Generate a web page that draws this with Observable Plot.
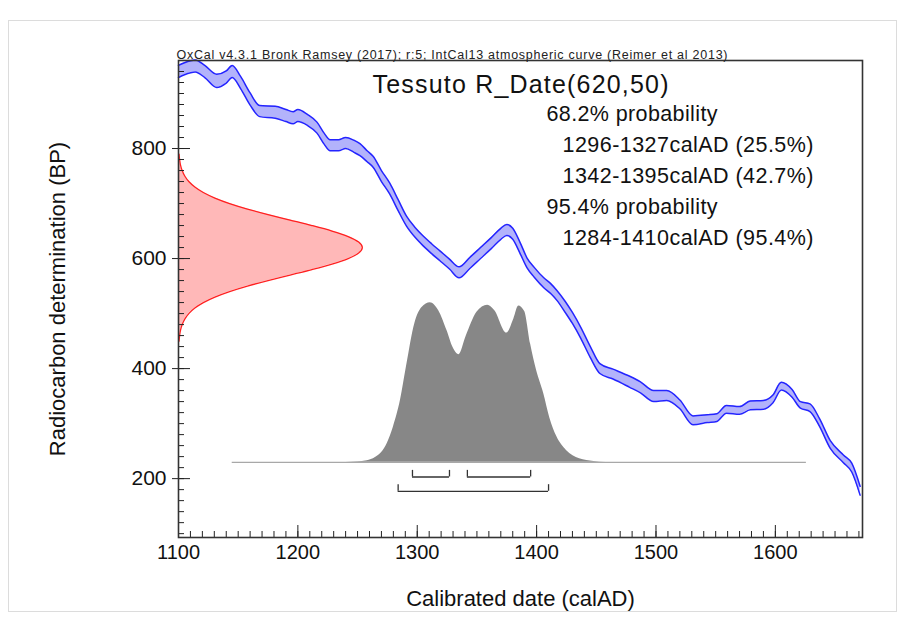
<!DOCTYPE html>
<html><head><meta charset="utf-8">
<script src="https://cdn.jsdelivr.net/npm/d3@7"></script>
<script src="https://cdn.jsdelivr.net/npm/@observablehq/plot@0.6"></script>
<style>
html,body{margin:0;padding:0;background:#fff;}
#wrap{position:relative;width:904px;height:617px;overflow:hidden;background:#fff;}
#border{position:absolute;left:8px;top:20px;width:889px;height:592px;border:1px solid #dcdcdc;box-sizing:border-box;pointer-events:none}
svg text{font-family:"Liberation Sans",Arial,sans-serif;}
</style></head><body><div id="wrap"><div id="border"></div></div>
<script>
// Calibration curve (IntCal13): calendar year, radiocarbon age (BP), 1-sigma half width
const curveYear  = [1100,1105,1114,1122,1132,1140,1145,1152,1160,1168,1181,1190,1196,1200,1208,1216,1222,1227,1234,1240,1247,1252,1258,1263,1270,1277,1284,1291,1298,1305,1312,1319,1327,1335,1344,1353,1362,1370,1375,1380,1386,1392,1398,1406,1412,1417,1424,1430,1437,1445,1453,1464,1478,1487,1498,1509,1520,1531,1543,1551,1559,1570,1579,1590,1598,1605,1614,1621,1629,1637,1646,1657,1664,1671];
const curveBP    = [940,945,950,940,923,930,940,920,890,868,866,860,856,860,852,838,818,806,806,810,804,798,786,776,750,727,697,668,648,632,618,605,590,575,592,610,628,645,652,645,620,592,575,556,545,533,512,492,465,430,400,390,376,366,350,351,335,306,309,311,326,324,333,334,345,368,355,334,329,302,262,236,220,178];
const curveSigma = [11,11,11,11,12,11,11,11,11,10,11,11,11,11,10,10,10,10,10,10,11,11,10,10,10,10,10,9,9,9,9,9,9,10,10,10,10,10,10,10,10,9,9,9,9,9,10,10,10,10,9,9,10,10,10,9,8,8,7,7,7,7,8,8,7,7,7,6,7,7,7,7,8,8];

// R_Date(620,50) measurement distribution (relative probability vs BP)
const dateBP   = [450,460,470,480,490,500,510,520,530,540,550,560,570,580,590,600,610,620,630,640,650,660,670,680,690,700,710,720,730,740,750,760,770,780,790];
const dateProb = [0.003,0.006,0.011,0.020,0.034,0.056,0.089,0.135,0.198,0.278,0.375,0.487,0.607,0.726,0.835,0.923,0.980,1.0,0.980,0.923,0.835,0.726,0.607,0.487,0.375,0.278,0.198,0.135,0.089,0.056,0.034,0.020,0.011,0.006,0.003];

// Calibrated (posterior) distribution: year vs relative probability
const postYear = [1240,1250,1258,1265,1270,1275,1280,1286,1291,1298,1304,1311,1318,1325,1330,1335,1341,1350,1359,1365,1375,1381,1385,1390,1395,1400,1406,1411,1417,1425,1436,1448,1458];
const postProb = [0,0.003,0.01,0.03,0.06,0.12,0.22,0.39,0.60,0.87,0.97,1.0,0.95,0.825,0.72,0.675,0.79,0.94,0.985,0.95,0.81,0.90,0.98,0.945,0.74,0.575,0.43,0.28,0.16,0.075,0.023,0.006,0];

// Probability ranges
const range68 = [[1296,1327],[1342,1395]];
const range95 = [[1284,1410]];

// Texts
const headerText = "OxCal v4.3.1 Bronk Ramsey (2017); r:5; IntCal13 atmospheric curve (Reimer et al 2013)";
const titleText = "Tessuto R_Date(620,50)";
const probLines = ["68.2% probability","1296-1327calAD (25.5%)","1342-1395calAD (42.7%)","95.4% probability","1284-1410calAD (95.4%)"];
const probIndent = [0,1,1,0,1];
const xLabelText = "Calibrated date (calAD)";
const yLabelText = "Radiocarbon determination (BP)";

// Ticks
const xTickLabels = [1100,1200,1300,1400,1500,1600];
const yTickLabels = [200,400,600,800];

const X_DOMAIN = [1100, 1673];
const Y_DOMAIN = [93, 960];

const curve = curveYear.map((x,i)=>({year:x, bp:curveBP[i], s:curveSigma[i]}));
const dateDist = dateBP.map((b,i)=>({bp:b, p:dateProb[i]}));
const post = postYear.map((x,i)=>({year:x, p:postProb[i]}));

const BASE = 229.6;     // baseline of calibrated distribution (BP units on plot)
const POST_H = 290;     // height of calibrated distribution
const RED_W = 154;      // width of measurement distribution (years)
const ROW1 = 203, ROW2 = 177, BR_H = 12;

const xMinor = d3.range(1100, 1674, 10);
const yMinor = d3.range(100, 961, 20);

const font = "Liberation Sans, Arial, sans-serif";
const T = {lineAnchor: "middle", frameAnchor: "top-left", textAnchor: "start", fill: "#111"};

const chart = Plot.plot({
  width: 904, height: 617,
  marginLeft: 178, marginRight: 42, marginTop: 60, marginBottom: 80,
  x: {domain: X_DOMAIN},
  y: {domain: Y_DOMAIN},
  style: {fontFamily: font, background: "transparent", color: "#111"},
  marks: [
    // calibrated distribution
    Plot.areaY(post, {x: "year", y1: BASE, y2: d => BASE + d.p*POST_H, fill: "#878787", curve: "monotone-x"}),
    Plot.ruleY([BASE], {x1: 1145, x2: 1626, stroke: "#a8a8a8", strokeWidth: 1.3}),
    // measurement distribution
    Plot.areaX(dateDist, {y: "bp", x1: X_DOMAIN[0], x2: d => X_DOMAIN[0] + d.p*RED_W, fill: "#ffb8b8", curve: "monotone-y"}),
    Plot.lineX(dateDist, {y: "bp", x: d => X_DOMAIN[0] + d.p*RED_W, stroke: "#ff2020", strokeWidth: 1.3, curve: "monotone-y"}),
    // calibration curve
    Plot.areaY(curve, {x: "year", y1: d => d.bp - d.s, y2: d => d.bp + d.s, fill: "#b3b3fb", curve: "monotone-x"}),
    Plot.lineY(curve, {x: "year", y: d => d.bp + d.s, stroke: "#2424ff", strokeWidth: 1.5, curve: "monotone-x"}),
    Plot.lineY(curve, {x: "year", y: d => d.bp - d.s, stroke: "#2424ff", strokeWidth: 1.5, curve: "monotone-x"}),
    // range brackets
    Plot.ruleY(range68, {x1: d => d[0], x2: d => d[1], y: ROW1, stroke: "#333", strokeWidth: 1.3}),
    Plot.ruleX(range68.flat(), {x: d => d, y1: ROW1, y2: ROW1 + BR_H, stroke: "#333", strokeWidth: 1.3}),
    Plot.ruleY(range95, {x1: d => d[0], x2: d => d[1], y: ROW2, stroke: "#333", strokeWidth: 1.3}),
    Plot.ruleX(range95.flat(), {x: d => d, y1: ROW2, y2: ROW2 + BR_H, stroke: "#333", strokeWidth: 1.3}),
    // axes
    Plot.axisX({ticks: xTickLabels, tickSize: 0, tickPadding: 7, fontSize: 20, tickFormat: d => String(d), label: null}),
    Plot.axisX({ticks: xTickLabels, tickSize: -12, tickFormat: () => "", label: null, stroke: "#222"}),
    Plot.axisX({ticks: xMinor, tickSize: -6, tickFormat: () => "", label: null, stroke: "#222"}),
    Plot.axisY({ticks: yTickLabels, tickSize: 0, tickPadding: 12, fontSize: 21, tickFormat: d => String(d), label: null}),
    Plot.axisY({ticks: yTickLabels, tickSize: -12, tickFormat: () => "", label: null, stroke: "#222"}),
    Plot.axisY({ticks: yTickLabels, tickSize: 6, tickFormat: () => "", label: null, stroke: "#222"}),
    Plot.axisY({ticks: yMinor, tickSize: -6, tickFormat: () => "", label: null, stroke: "#222"}),
    Plot.frame({stroke: "#333", strokeWidth: 1.6}),
    // axis titles
    Plot.text([xLabelText], {text: d => d, frameAnchor: "bottom", lineAnchor: "middle", textAnchor: "middle", dy: 61, fontSize: 22, fill: "#111"}),
    Plot.text([yLabelText], {text: d => d, frameAnchor: "left", lineAnchor: "middle", textAnchor: "middle", dx: -121, rotate: -90, fontSize: 22, fill: "#111"}),
    // header and annotations
    Plot.text([headerText], {...T, text: d => d, dx: -2, dy: -6, fontSize: 12.5, fill: "#222"}),
    Plot.text([titleText], {...T, text: d => d, dx: 194, dy: 24, fontSize: 25}),
    ...probLines.map((t, i) => Plot.text([t], {...T, text: d => d, dx: 368 + probIndent[i]*16, dy: 53.5 + i*31, fontSize: 21.5}))
  ]
});
// stretch annotation text widths to match the original rendering
const widths = new Map([[headerText, 551], [titleText, 296], [probLines[0], 171], [probLines[1], 251], [probLines[2], 251], [probLines[3], 171], [probLines[4], 251]]);
chart.querySelectorAll("text").forEach(el => {
  const w = widths.get(el.textContent);
  if (w) { el.setAttribute("textLength", w); el.setAttribute("lengthAdjust", "spacing"); }
});
document.getElementById("wrap").appendChild(chart);
chart.style.position = "absolute";
chart.style.left = "0px";
chart.style.top = "0px";
</script>
</body></html>
